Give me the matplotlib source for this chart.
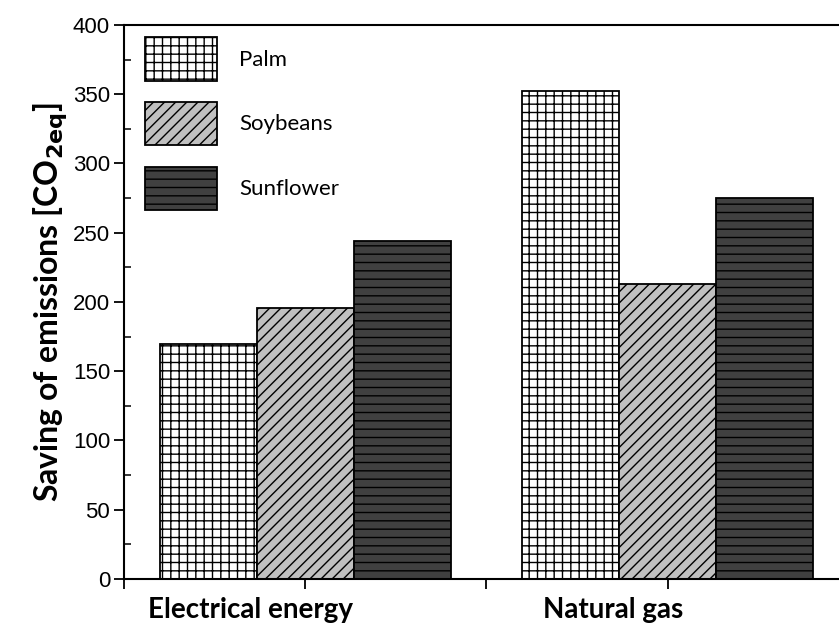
import numpy as np
import matplotlib
matplotlib.use("Agg")
import matplotlib.pyplot as plt
from matplotlib.ticker import MultipleLocator, FixedLocator
from matplotlib.transforms import ScaledTranslation

# data
sources = ["Electrical energy", "Natural gas"]
crops = ["Palm", "Soybeans", "Sunflower"]
palm = [170, 352]
soybeans = [196, 213]
sunflower = [244, 275]

colors = ["white", "#c0c0c0", "#404040"]
hatches = ["++", "///", "--"]

plt.rcParams["hatch.linewidth"] = 1.0
plt.rcParams["font.family"] = ["Liberation Sans", "DejaVu Sans"]

fig = plt.figure(figsize=(8.39, 6.26), dpi=100)
ax = fig.add_axes([0.1478, 0.0751, 0.8641, 0.885])

x = np.arange(1, len(sources) + 1)
w = 0.2676
for i, (vals, name) in enumerate(zip([palm, soybeans, sunflower], crops)):
    ax.bar(x + (i - 1) * w, vals, w, color=colors[i], edgecolor="black",
           hatch=hatches[i], linewidth=1.3, label=name)

ax.set_xlim(0.5, 2.5)
ax.set_ylim(0, 400)
ax.yaxis.set_major_locator(MultipleLocator(50))
ax.yaxis.set_minor_locator(MultipleLocator(25))
ax.set_xticks(x)
ax.set_xticklabels(sources, fontfamily="Lato", fontweight="bold", fontsize=20)
ax.xaxis.set_minor_locator(FixedLocator([0.5, 1.5]))
ax.tick_params(axis="y", which="major", direction="out", length=7, width=1.3,
               labelsize=16, pad=3)
ax.tick_params(axis="y", which="minor", direction="in", length=5, width=1.1)
ax.tick_params(axis="x", which="major", direction="out", length=7, width=1.3, pad=6)
ax.tick_params(axis="x", which="minor", direction="out", length=7, width=1.3)
for lab in ax.get_xticklabels():
    lab.set_transform(lab.get_transform() + ScaledTranslation(-0.55, 0, fig.dpi_scale_trans))

ax.set_ylabel("Saving of emissions [CO$_\\mathbf{2eq}$]", fontfamily="Lato",
              fontweight="bold", fontsize=23, labelpad=3)

for s in ax.spines.values():
    s.set_linewidth(1.5)

ax.legend(loc="upper left", bbox_to_anchor=(0.012, 1.0), frameon=False,
          prop={"family": "Lato", "size": 16},
          handlelength=3.24, handleheight=2.64, labelspacing=0.95, handletextpad=1.0,
          borderaxespad=0.15)

fig.savefig("out.png", dpi=100)
